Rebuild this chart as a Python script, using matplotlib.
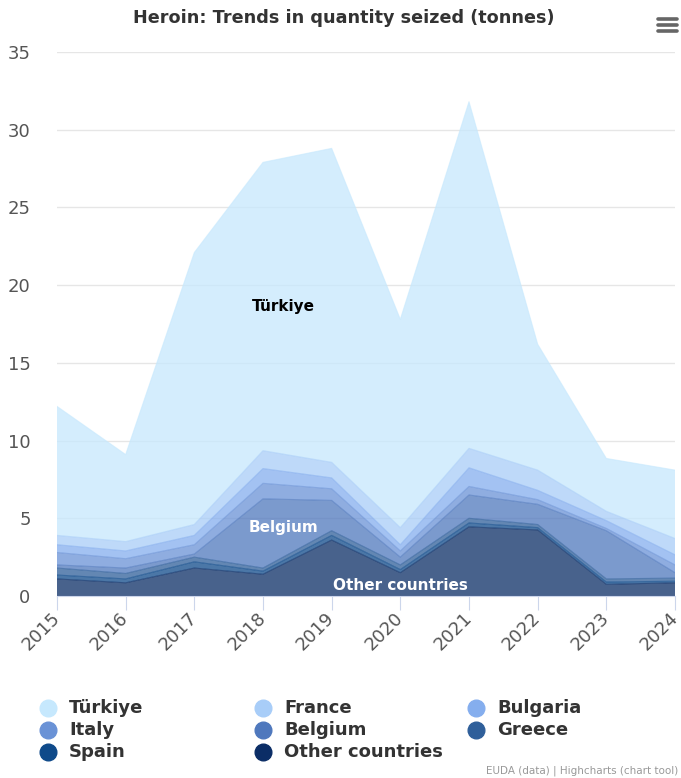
import matplotlib
matplotlib.use("Agg")
import matplotlib.pyplot as plt
import numpy as np
from matplotlib.lines import Line2D

plt.rcParams['font.family'] = ['DejaVu Sans']

# data (tonnes), stacking order bottom -> top
years = [2015, 2016, 2017, 2018, 2019, 2020, 2021, 2022, 2023, 2024]
other = [1.1, 0.85, 1.8, 1.4, 3.6, 1.5, 4.45, 4.25, 0.75, 0.85]
spain = [0.25, 0.25, 0.4, 0.2, 0.3, 0.2, 0.25, 0.15, 0.15, 0.1]
greece = [0.45, 0.35, 0.3, 0.2, 0.3, 0.3, 0.3, 0.2, 0.2, 0.2]
belgium = [0.2, 0.35, 0.2, 4.45, 1.95, 0.5, 1.5, 1.3, 3.1, 0.35]
italy = [0.8, 0.6, 0.6, 1.0, 0.75, 0.4, 0.55, 0.3, 0.15, 0.5]
bulgaria = [0.5, 0.5, 0.6, 0.95, 0.7, 0.4, 1.2, 0.6, 0.5, 0.65]
france = [0.6, 0.6, 0.7, 1.15, 1.0, 1.1, 1.25, 1.3, 0.6, 1.05]
turkiye = [8.3, 5.6, 17.5, 18.55, 20.2, 13.4, 22.3, 8.1, 3.4, 4.4]

names = ["Other countries", "Spain", "Greece", "Belgium", "Italy", "Bulgaria", "France", "Türkiye"]
series = [other, spain, greece, belgium, italy, bulgaria, france, turkiye]
colors = ["#0b2d66", "#0f4a8a", "#2f5f9a", "#4f78bd", "#6a92d6", "#85aeee", "#a8cdf8", "#c6e8fd"]

fig = plt.figure(figsize=(6.81, 7.78), dpi=100)
W, H = 681, 778
ax = fig.add_axes([57 / W, 1 - 596 / H, (675 - 57) / W, (596 - 52) / H])

ax.stackplot(years, *series, colors=colors, alpha=0.75, linewidth=0, zorder=2)
cum = np.cumsum(np.array(series), axis=0)
for c, col in zip(cum, colors):
    ax.plot(years, c, color=col, lw=0.8, alpha=0.6, zorder=3)

ax.set_xlim(2015, 2024)
ax.set_ylim(0, 35)
ax.set_yticks(range(0, 36, 5))
ax.set_xticks(years)
ax.grid(axis='y', color='#e6e6e6', lw=1, zorder=0)
ax.set_axisbelow(True)
for s in ['top', 'right', 'left']:
    ax.spines[s].set_visible(False)
ax.spines['bottom'].set_color('#ccd6eb')
ax.tick_params(axis='y', length=0, pad=19, labelsize=13, labelcolor='#555555')
ax.tick_params(axis='x', length=10, color='#ccd6eb', pad=4, labelsize=13, labelcolor='#555555')
for lab in ax.get_xticklabels():
    lab.set_rotation(45)
    lab.set_ha('right')
    lab.set_va('center')
    lab.set_rotation_mode('anchor')

# in-chart labels
ax.text(2018.3, 18.6, "Türkiye", ha='center', va='center', fontsize=11, fontweight='bold', color='black', zorder=5)
ax.text(2018.3, 4.4, "Belgium", ha='center', va='center', fontsize=11, fontweight='bold', color='white', zorder=5)
ax.text(2020, 0.7, "Other countries", ha='center', va='center', fontsize=11, fontweight='bold', color='white', zorder=5)

fig.text(344 / W, 1 - 18 / H, "Heroin: Trends in quantity seized (tonnes)", ha='center', va='center',
         fontsize=12.7, fontweight='bold', color='#333333')

# menu icon
for yy in (19, 25, 31):
    fig.add_artist(Line2D([658 / W, 677 / W], [1 - yy / H, 1 - yy / H], color='#666666', lw=2.6,
                          solid_capstyle='round'))

# legend
leg_order = ["Türkiye", "France", "Bulgaria", "Italy", "Belgium", "Greece", "Spain", "Other countries"]
col_x = [48, 263, 476]
row_y = [708, 730, 752]
for i, nm in enumerate(leg_order):
    x = col_x[i % 3]
    y = row_y[i // 3]
    c = colors[names.index(nm)]
    fig.add_artist(Line2D([x / W], [1 - y / H], marker='o', markersize=12, color=c, lw=0))
    fig.text((x + 21) / W, 1 - y / H, nm, ha='left', va='center', fontsize=13, fontweight='bold', color='#333333')

fig.text(678 / W, 1 - 771 / H, "EUDA (data) | Highcharts (chart tool)", ha='right', va='center',
         fontsize=7.5, color='#999999')

fig.savefig("out.png", dpi=100)
